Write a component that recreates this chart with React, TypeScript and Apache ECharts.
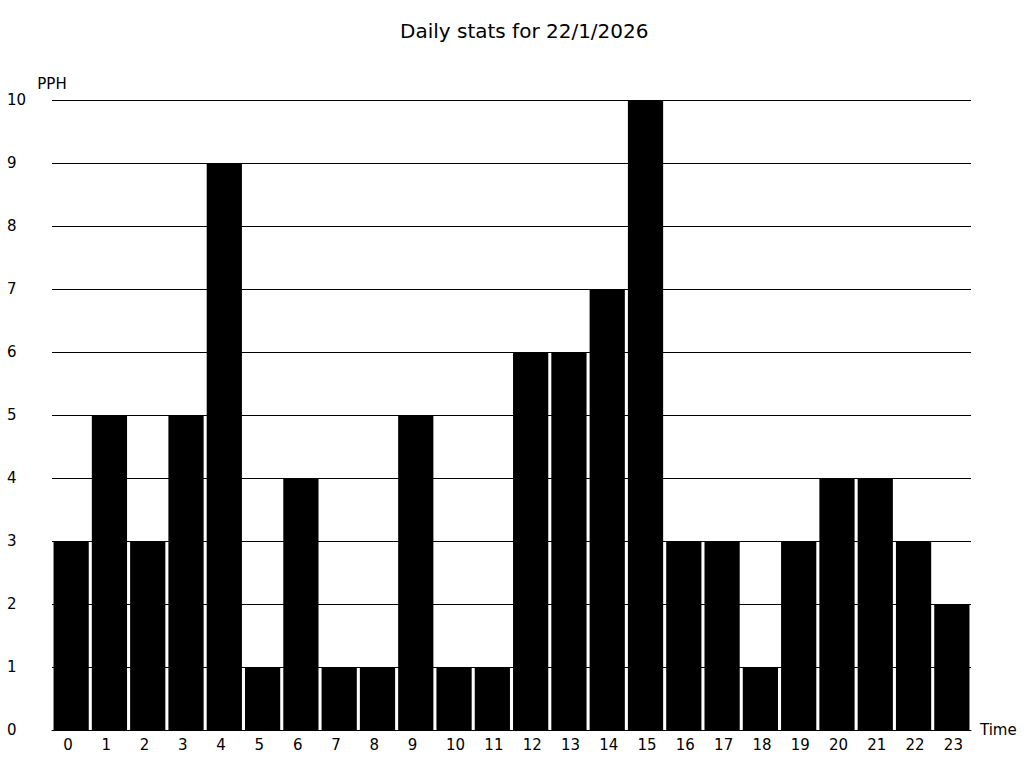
import React, { useEffect, useRef } from "react";
import * as echarts from "echarts";

const hours = ["0","1","2","3","4","5","6","7","8","9","10","11","12","13","14","15","16","17","18","19","20","21","22","23"];
const pph = [3,5,3,5,9,1,4,1,1,5,1,1,6,6,7,10,3,3,1,3,4,4,3,2];
const titleText = "Daily stats for 22/1/2026";

export default function App() {
  const ref = useRef<HTMLDivElement>(null);
  useEffect(() => {
    const chart = echarts.init(ref.current!, null, { renderer: "svg" });
    const font = "DejaVu Sans";
    chart.setOption({
      animation: false,
      textStyle: { fontFamily: font },
      title: {
        text: titleText,
        left: 395,
        top: 16,
        textStyle: { fontFamily: font, fontSize: 20, fontWeight: "normal", color: "#000" },
      },
      grid: { left: 52, right: 53, top: 100, bottom: 38, containLabel: false },
      xAxis: {
        type: "category",
        data: hours,
        name: "Time",
        nameLocation: "end",
        nameGap: 9,
        nameTextStyle: { fontFamily: font, fontSize: 15, color: "#000" },
        axisLine: { show: true, lineStyle: { color: "#000", width: 1 } },
        axisTick: { show: false },
        axisLabel: {
          fontFamily: font,
          fontSize: 15,
          color: "#000",
          margin: 7,
          interval: 0,
          formatter: (v: string) => `{a|${v}}`,
          rich: { a: { width: 16, align: "left", fontFamily: font, fontSize: 15, color: "#000" } },
        },
      },
      yAxis: {
        type: "value",
        min: 0,
        max: 10,
        interval: 1,
        name: "PPH",
        nameLocation: "end",
        nameGap: 9,
        nameTextStyle: { fontFamily: font, fontSize: 15, color: "#000", align: "center" },
        axisLine: { show: false },
        axisTick: { show: false },
        axisLabel: { fontFamily: font, fontSize: 15, color: "#000", align: "left", margin: 45 },
        splitLine: { show: true, lineStyle: { color: "#000", width: 1 } },
      },
      series: [
        {
          type: "bar",
          data: pph,
          barCategoryGap: "8%",
          itemStyle: { color: "#000" },
        },
      ],
    });
    return () => chart.dispose();
  }, []);
  return <div ref={ref} style={{ width: 1024, height: 768, position: "absolute", left: 0, top: 0 }} />;
}
